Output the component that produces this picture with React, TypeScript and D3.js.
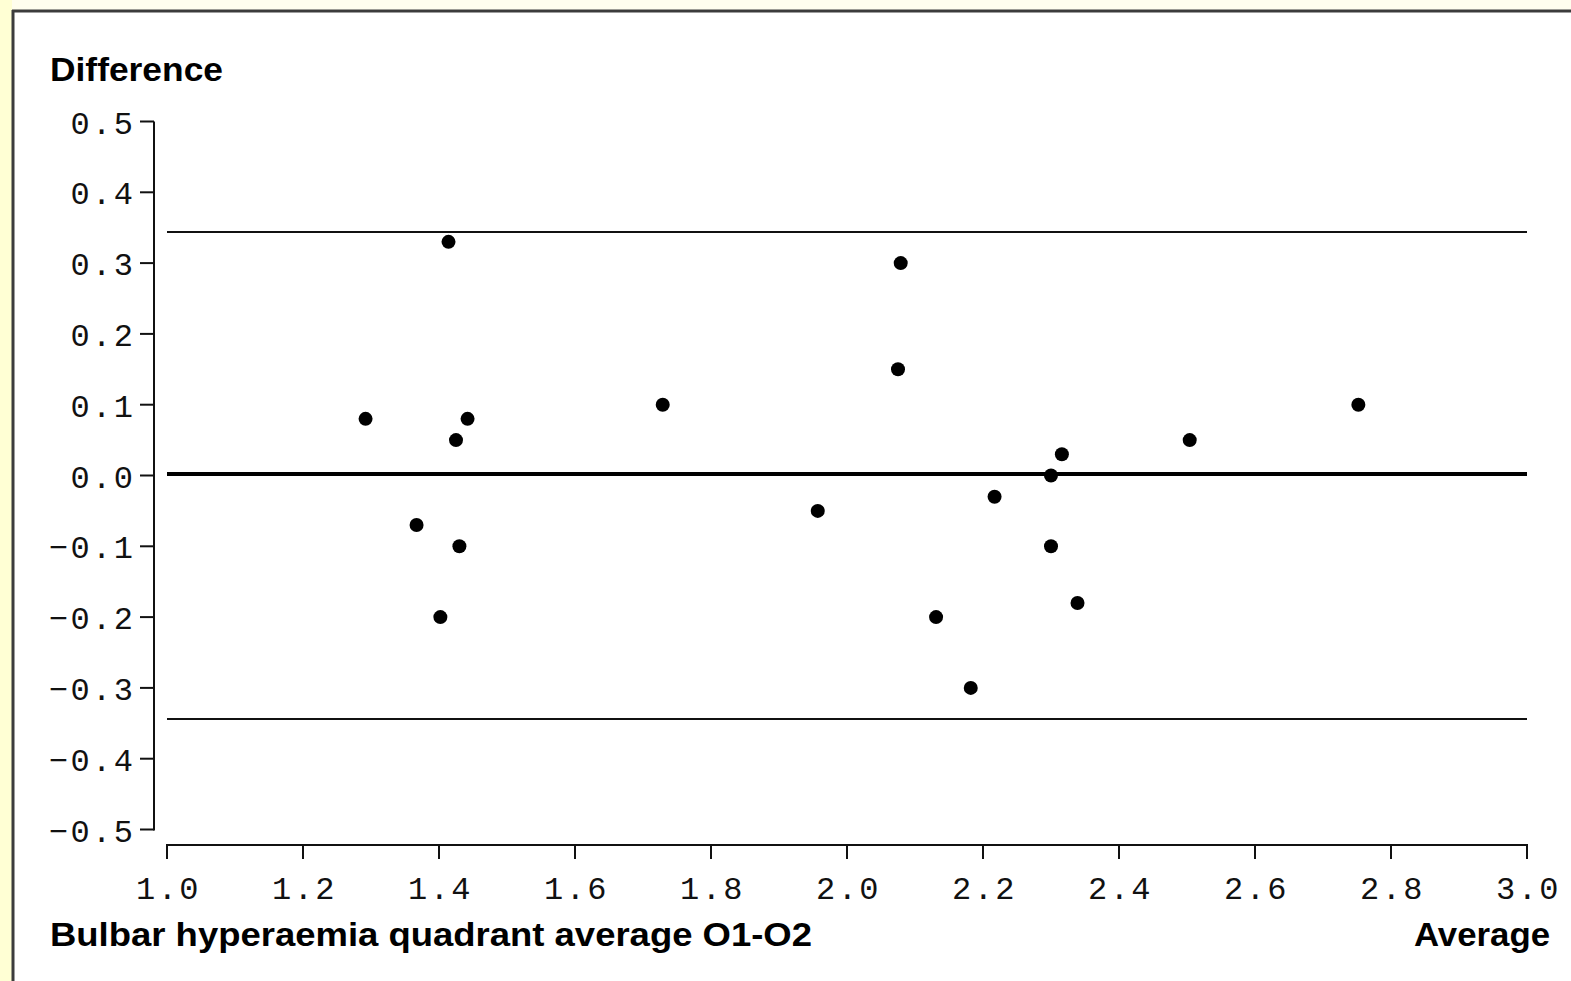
import React from "react";
import * as d3 from "d3";

const averages = [1.292, 1.414, 1.442, 1.425, 1.367, 1.43, 1.402, 1.729, 1.957, 2.079, 2.075, 2.131, 2.182, 2.217, 2.3, 2.316, 2.3, 2.339, 2.504, 2.752];
const differences = [0.08, 0.33, 0.08, 0.05, -0.07, -0.1, -0.2, 0.1, -0.05, 0.3, 0.15, -0.2, -0.3, -0.03, 0.0, 0.03, -0.1, -0.18, 0.05, 0.1];

const meanDiff = 0.002;
const upperLimit = 0.344;
const lowerLimit = -0.344;

const xTicks = [1.0, 1.2, 1.4, 1.6, 1.8, 2.0, 2.2, 2.4, 2.6, 2.8, 3.0];
const yTicks = [0.5, 0.4, 0.3, 0.2, 0.1, 0.0, -0.1, -0.2, -0.3, -0.4, -0.5];

const yTitle = "Difference";
const xTitle = "Bulbar hyperaemia quadrant average O1-O2";
const xTitleRight = "Average";

const W = 1571;
const H = 981;

export default function App() {
  const x = d3.scaleLinear().domain([1, 3]).range([167, 1527]);
  const y = d3.scaleLinear().domain([-0.5, 0.5]).range([829.5, 121.5]);
  const fmt = (v: number) => {
    const s = Math.abs(v).toFixed(1);
    return (v < -1e-9 ? "\u2212" : "") + s;
  };
  const tickFont = {
    fontFamily: "'Liberation Mono', 'DejaVu Sans Mono', monospace",
    fontSize: 32,
    letterSpacing: 2.5,
    fill: "#111",
  } as const;
  const titleFont = {
    fontFamily: "'Liberation Sans', Arial, sans-serif",
    fontSize: 34,
    fontWeight: 700,
    fill: "#000",
  } as const;
  const axisX = 154;
  const axisY = 845;
  return (
    <svg
      width={W}
      height={H}
      style={{ position: "absolute", left: 0, top: 0, display: "block" }}
    >
      <rect x={0} y={0} width={W} height={H} fill="#FFFEEE" />
      <rect x={0} y={0} width={12} height={H} fill="#FFFFD4" />
      <rect x={12} y={10} width={W} height={H} fill="#FFFFFF" />
      <line x1={12} y1={11} x2={W} y2={11} stroke="#3c3c3c" strokeWidth={3} />
      <line x1={13} y1={10} x2={13} y2={H} stroke="#3c3c3c" strokeWidth={3} />

      {/* Limit lines */}
      <line x1={x(1)} x2={x(3)} y1={y(upperLimit)} y2={y(upperLimit)} stroke="#111" strokeWidth={2} />
      <line x1={x(1)} x2={x(3)} y1={y(lowerLimit)} y2={y(lowerLimit)} stroke="#111" strokeWidth={2} />
      <line x1={x(1)} x2={x(3)} y1={y(meanDiff)} y2={y(meanDiff)} stroke="#000" strokeWidth={4} />

      {/* Y axis */}
      <line x1={axisX} x2={axisX} y1={y(0.5)} y2={y(-0.5) + 1} stroke="#111" strokeWidth={2} />
      {yTicks.map((t) => (
        <g key={"y" + t}>
          <line x1={140} x2={axisX} y1={y(t)} y2={y(t)} stroke="#111" strokeWidth={2} />
          <text x={133 + 2.5} y={y(t) + 12} textAnchor="end" style={tickFont}>
            {fmt(t)}
          </text>
        </g>
      ))}

      {/* X axis */}
      <line x1={x(1) - 1} x2={x(3) + 1} y1={axisY} y2={axisY} stroke="#111" strokeWidth={2} />
      {xTicks.map((t) => (
        <g key={"x" + t}>
          <line x1={x(t)} x2={x(t)} y1={axisY} y2={859} stroke="#111" strokeWidth={2} />
          <text x={x(t) + 1.5} y={899} textAnchor="middle" style={tickFont}>
            {fmt(t)}
          </text>
        </g>
      ))}

      {/* Points */}
      {averages.map((a, i) => (
        <circle key={i} cx={x(a)} cy={y(differences[i])} r={7} fill="#000" />
      ))}

      {/* Titles */}
      <text x={50} y={81} style={titleFont} textLength={173} lengthAdjust="spacingAndGlyphs">
        {yTitle}
      </text>
      <text x={50} y={946} style={titleFont} textLength={762} lengthAdjust="spacingAndGlyphs">
        {xTitle}
      </text>
      <text x={1414} y={946} style={titleFont} textLength={136} lengthAdjust="spacingAndGlyphs">
        {xTitleRight}
      </text>
    </svg>
  );
}
